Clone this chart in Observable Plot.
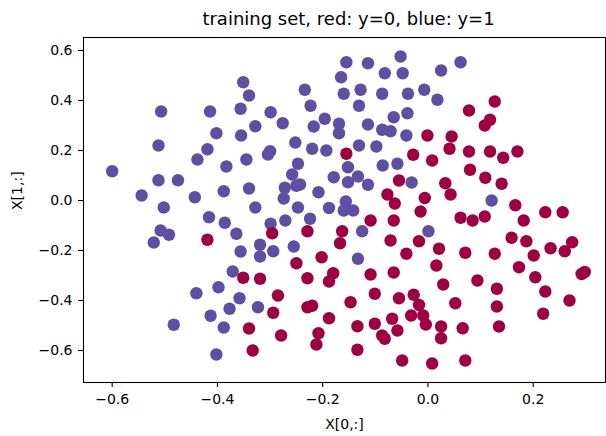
<!DOCTYPE html>
<html>
<head>
<meta charset="utf-8">
<script src="https://cdn.jsdelivr.net/npm/d3@7"></script>
<script src="https://cdn.jsdelivr.net/npm/@observablehq/plot@0.6"></script>
<style>
  html, body { margin: 0; padding: 0; background: #fff; }
  #chart svg { display: block; }
</style>
</head>
<body>
<div id="chart"></div>
<script>
const titleText = "training set, red: y=0, blue: y=1";
const xLabel = "X[0,:]";
const yLabel = "X[1,:]";
const xTicks = [-0.6, -0.4, -0.2, 0.0, 0.2];
const yTicks = [-0.6, -0.4, -0.2, 0.0, 0.2, 0.4, 0.6];

// class y=1 (blue)
const blueX = [-0.351,-0.340,-0.507,-0.414,-0.356,-0.328,-0.402,-0.355,-0.512,-0.419,-0.438,-0.345,-0.383,-0.600,-0.512,-0.475,-0.544,-0.443,-0.388,-0.340,-0.502,-0.328,
  -0.155,-0.114,-0.052,-0.165,-0.082,-0.048,-0.234,-0.160,-0.128,-0.087,-0.038,-0.007,-0.223,-0.131,-0.299,-0.276,-0.196,-0.217,-0.169,-0.169,-0.114,-0.087,-0.071,-0.039,-0.065,-0.041,
  -0.252,-0.300,-0.304,-0.220,-0.193,-0.131,-0.098,-0.247,-0.258,-0.152,-0.086,-0.058,-0.179,-0.133,-0.152,-0.114,-0.031,-0.243,-0.250,-0.272,-0.274,-0.208,-0.247,-0.188,-0.156,-0.160,-0.142,
  0.062,0.025,0.018,0.121,
  -0.416,-0.386,-0.364,-0.508,-0.492,-0.521,-0.356,-0.371,-0.398,-0.440,-0.358,-0.377,-0.413,-0.483,-0.388,-0.402,
  -0.299,-0.271,-0.224,-0.125,0.001,-0.319,-0.319,-0.294,-0.255,-0.133,-0.323];
const blueY = [0.473,0.420,0.356,0.356,0.367,0.297,0.269,0.260,0.220,0.205,0.164,0.164,0.136,0.117,0.081,0.081,0.020,0.013,0.037,0.048,-0.028,-0.028,
  0.553,0.549,0.576,0.493,0.509,0.509,0.443,0.427,0.443,0.427,0.427,0.443,0.379,0.379,0.353,0.309,0.327,0.296,0.307,0.269,0.304,0.283,0.277,0.349,0.333,0.260,
  0.232,0.197,0.184,0.207,0.200,0.220,0.216,0.147,0.104,0.133,0.140,0.147,0.093,0.096,0.073,0.063,0.072,0.064,0.059,0.051,0.008,0.033,-0.028,-0.030,-0.004,-0.040,-0.040,
  0.553,0.520,0.403,0.000,
  -0.067,-0.089,-0.133,-0.120,-0.137,-0.168,-0.204,-0.284,-0.347,-0.371,-0.391,-0.433,-0.461,-0.497,-0.508,-0.616,
  -0.093,-0.080,-0.073,-0.123,-0.123,-0.177,-0.224,-0.203,-0.184,-0.233,-0.427];

// class y=0 (red)
const redX = [-0.001,-0.155,-0.028,0.008,-0.055,-0.077,-0.063,-0.006,-0.014,
  0.127,0.078,0.118,0.108,0.045,0.041,0.078,0.118,0.143,0.170,0.080,0.109,0.140,0.033,0.043,0.166,0.223,0.256,
  -0.419,-0.351,-0.319,-0.340,-0.333,
  -0.109,-0.065,-0.296,-0.229,-0.163,-0.071,-0.017,-0.167,-0.202,-0.250,-0.041,-0.229,-0.180,-0.188,-0.109,-0.065,
  -0.285,-0.101,-0.147,-0.055,-0.027,-0.017,-0.294,-0.229,-0.220,-0.032,-0.009,-0.004,-0.188,-0.134,-0.101,-0.068,-0.058,-0.087,-0.082,-0.279,-0.208,-0.212,-0.134,-0.049,0.008,
  0.062,0.085,0.108,0.182,0.159,0.187,0.274,0.260,0.233,0.201,0.021,0.071,0.127,0.016,0.173,0.292,0.298,0.204,0.029,0.094,0.131,0.223,0.269,0.052,0.131,0.219,0.025,0.025,0.066,0.135,0.071];
const redY = [0.260,0.187,0.183,0.160,0.080,0.024,-0.012,0.010,-0.044,
  0.396,0.360,0.323,0.300,0.256,0.207,0.196,0.196,0.171,0.196,0.123,0.091,0.067,0.069,0.024,-0.019,-0.047,-0.047,
  -0.157,-0.309,-0.313,-0.512,-0.600,
  -0.080,-0.080,-0.131,-0.123,-0.123,-0.160,-0.163,-0.171,-0.227,-0.251,-0.213,-0.311,-0.291,-0.324,-0.296,-0.288,
  -0.380,-0.373,-0.407,-0.391,-0.377,-0.418,-0.449,-0.427,-0.421,-0.460,-0.460,-0.496,-0.471,-0.503,-0.493,-0.473,-0.520,-0.540,-0.553,-0.540,-0.531,-0.576,-0.597,-0.640,-0.652,
  -0.069,-0.080,-0.064,-0.080,-0.149,-0.163,-0.167,-0.203,-0.191,-0.220,-0.193,-0.209,-0.213,-0.260,-0.267,-0.294,-0.286,-0.307,-0.336,-0.320,-0.353,-0.364,-0.400,-0.411,-0.424,-0.453,-0.504,-0.551,-0.511,-0.504,-0.640];

const points = [];
blueX.forEach((x, i) => points.push({x, y: blueY[i], label: 1}));
redX.forEach((x, i) => points.push({x, y: redY[i], label: 0}));
const colorOf = d => d.label === 1 ? "#5e4fa2" : "#9e0142";

const fmt = d3.format(".1f");
const font = "DejaVu Sans, sans-serif";

const chart = Plot.plot({
  width: 606,
  height: 436,
  marginTop: 37,
  marginLeft: 83,
  marginRight: 1,
  marginBottom: 54,
  style: {fontFamily: font, color: "#000", background: "#fff"},
  x: {domain: [-0.6545, 0.3374]},
  y: {domain: [-0.728, 0.652]},
  marks: [
    Plot.dot(points, {x: "x", y: "y", r: 6.2, fill: colorOf, stroke: null}),
    Plot.frame({stroke: "#000", strokeWidth: 1.1}),
    Plot.axisX({ticks: xTicks, tickFormat: fmt, tickSize: 5, tickPadding: 7, fontSize: 14, label: null, stroke: "#000", strokeWidth: 1.1}),
    Plot.axisY({ticks: yTicks, tickFormat: fmt, tickSize: 5, tickPadding: 6, fontSize: 14, label: null, stroke: "#000", strokeWidth: 1.1}),
    Plot.text([titleText], {frameAnchor: "top", dy: -18, dx: 4, fontSize: 18, fill: "#000", lineAnchor: "middle"}),
    Plot.text([xLabel], {frameAnchor: "bottom", dy: 42, fontSize: 14, fill: "#000", lineAnchor: "middle"}),
    Plot.text([yLabel], {frameAnchor: "left", dx: -66, rotate: -90, fontSize: 14, fill: "#000", lineAnchor: "middle"})
  ]
});
document.getElementById("chart").appendChild(chart);
</script>
</body>
</html>
